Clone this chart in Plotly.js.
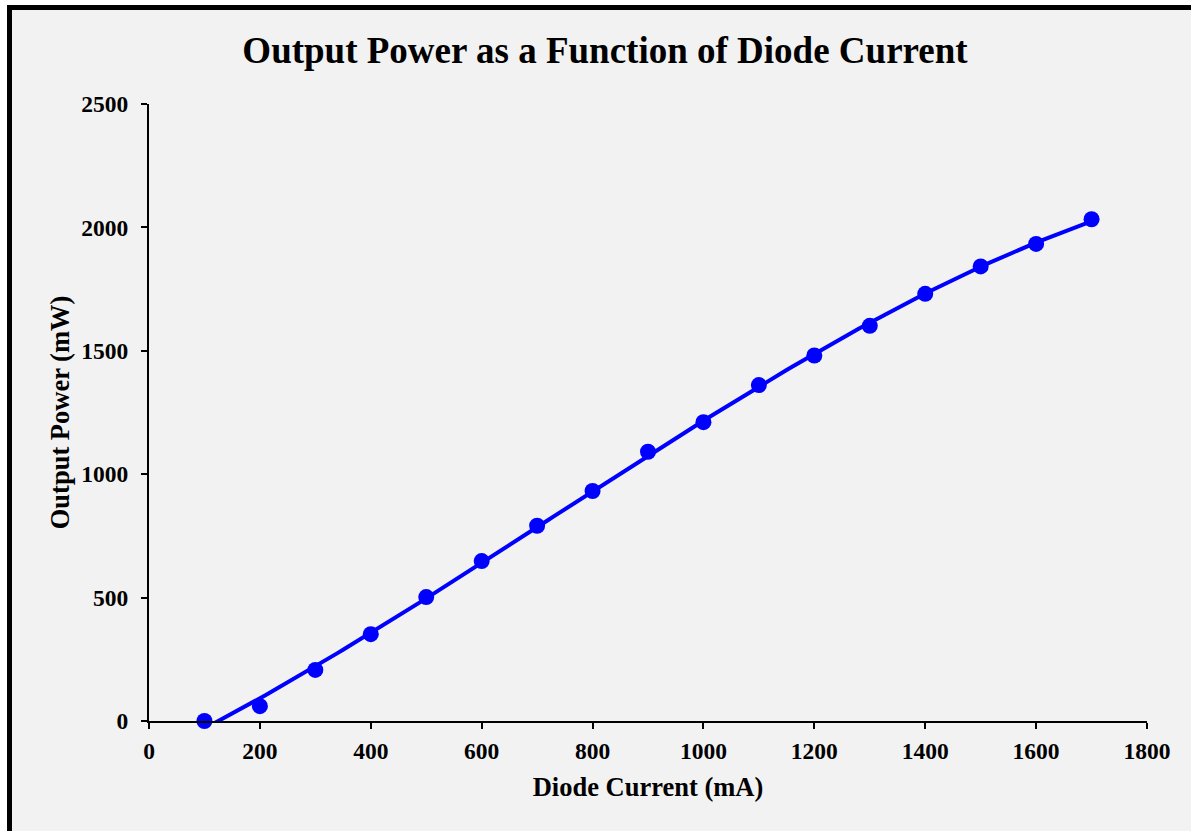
<!DOCTYPE html>
<html>
<head>
<meta charset="utf-8">
<script src="https://cdn.plot.ly/plotly-3.0.1.min.js"></script>
<style>
  html, body { margin: 0; padding: 0; background: #ffffff; overflow: hidden; }
  #frame { position: absolute; left: 7px; top: 5px; width: 1200px; height: 840px;
           border: 5px solid #000; background: #f2f2f2; }
  #chart { width: 1200px; height: 840px; }
</style>
</head>
<body>
<div id="frame"><div id="chart"></div></div>
<script>
// Data
const diodeCurrent = [100, 200, 300, 400, 500, 600, 700, 800, 900, 1000, 1100, 1200, 1300, 1400, 1500, 1600, 1700];
const outputPower  = [0, 60, 207, 352, 502, 648, 791, 932, 1091, 1211, 1361, 1481, 1601, 1731, 1842, 1933, 2033];
const xTickVals = [0, 200, 400, 600, 800, 1000, 1200, 1400, 1600, 1800];
const yTickVals = [0, 500, 1000, 1500, 2000, 2500];

// Polynomial (cubic) least-squares trendline computed from the data
function polyFit(xs, ys, order) {
  const n = order + 1;
  const s = 1000;
  const A = Array.from({length: n}, () => new Array(n + 1).fill(0));
  for (let k = 0; k < xs.length; k++) {
    const x = xs[k] / s;
    for (let i = 0; i < n; i++) {
      for (let j = 0; j < n; j++) A[i][j] += Math.pow(x, i + j);
      A[i][n] += ys[k] * Math.pow(x, i);
    }
  }
  for (let i = 0; i < n; i++) {
    let p = i;
    for (let r = i + 1; r < n; r++) if (Math.abs(A[r][i]) > Math.abs(A[p][i])) p = r;
    [A[i], A[p]] = [A[p], A[i]];
    for (let r = 0; r < n; r++) {
      if (r === i) continue;
      const f = A[r][i] / A[i][i];
      for (let c = i; c <= n; c++) A[r][c] -= f * A[i][c];
    }
  }
  const coef = A.map((row, i) => row[n] / row[i]);
  return x => coef.reduce((acc, c, i) => acc + c * Math.pow(x / s, i), 0);
}
const fit = polyFit(diodeCurrent, outputPower, 3);
const xMin = diodeCurrent[0], xMax = diodeCurrent[diodeCurrent.length - 1];
const fitX = [], fitY = [];
for (let i = 0; i <= 160; i++) {
  const x = xMin + (xMax - xMin) * i / 160;
  fitX.push(x); fitY.push(fit(x));
}

const font = "'Liberation Serif', 'Times New Roman', serif";
const traces = [
  { x: fitX, y: fitY, mode: 'lines', line: { color: '#0000ff', width: 4 },
    hoverinfo: 'skip', showlegend: false },
  { x: diodeCurrent, y: outputPower, mode: 'markers',
    marker: { color: '#0000ff', size: 16, symbol: 'circle' }, showlegend: false, cliponaxis: false }
];

const layout = {
  width: 1200, height: 840,
  paper_bgcolor: '#f2f2f2', plot_bgcolor: '#f2f2f2',
  margin: { l: 137, r: 65, t: 94, b: 129 },
  font: { family: font, color: '#000', size: 23 },
  title: { text: '<b>Output Power as a Function of Diode Current</b>',
           font: { family: font, size: 37, color: '#000' },
           xref: 'container', x: 593 / 1200, xanchor: 'center',
           yref: 'container', y: 1 - 40 / 840, yanchor: 'middle' },
  xaxis: {
    range: [0, 1800], tickvals: xTickVals, ticktext: xTickVals.map(v => '<b>' + v + '</b>'),
    showgrid: false, zeroline: false, showline: true, linecolor: '#000', linewidth: 2,
    ticks: 'outside', ticklen: 6, tickwidth: 2, tickcolor: '#000',
    ticklabelstandoff: 2,
    tickfont: { family: font, size: 23.5, color: '#000' },
    title: { text: '<b>Diode Current (mA)</b>', font: { family: font, size: 26.5, color: '#000' }, standoff: 14 },
    fixedrange: true
  },
  yaxis: {
    range: [0, 2500], tickvals: yTickVals, ticktext: yTickVals.map(v => '<b>' + v + '</b>'),
    showgrid: false, zeroline: false, showline: true, linecolor: '#000', linewidth: 2,
    ticks: 'outside', ticklen: 6, tickwidth: 2, tickcolor: '#000',
    ticklabelstandoff: 8,
    tickfont: { family: font, size: 23.5, color: '#000' },
    title: { text: '<b>Output Power (mW)</b>', font: { family: font, size: 26.5, color: '#000' }, standoff: 4 },
    fixedrange: true
  }
};

Plotly.newPlot('chart', traces, layout, { displayModeBar: false, staticPlot: true });
</script>
</body>
</html>
